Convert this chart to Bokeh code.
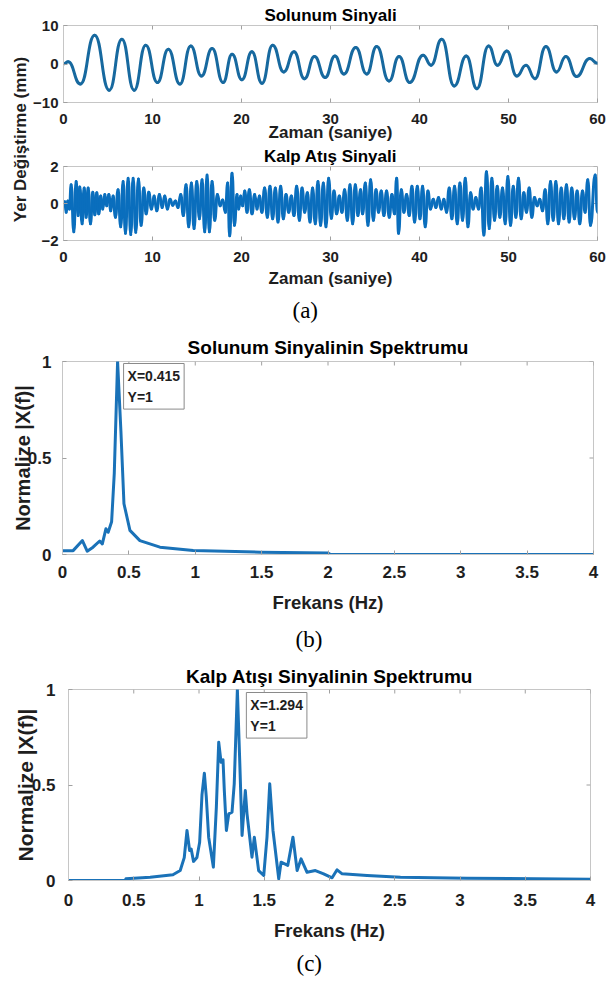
import math
from bokeh.plotting import figure
from bokeh.models import Range1d, FixedTicker, Label, Title
from bokeh.layouts import column, row
from bokeh.embed import file_html
from bokeh.resources import INLINE

# ---------------- data ----------------
# respiration signal: successive extrema (time s, displacement mm)
resp_t = [0.0, 0.52, 1.9, 3.5, 5.14, 6.56, 7.94, 9.24, 10.55, 11.78,
          13.08, 14.3, 15.5, 16.7, 17.93, 18.94, 20.05, 21.17, 22.3, 23.5,
          24.75, 25.9, 27.07, 28.2, 29.4, 30.5, 31.5, 32.84, 34.07, 35.19,
          36.58, 37.7, 38.9, 40.4, 41.3, 42.5, 43.9, 45.26, 46.45, 47.76,
          48.77, 49.8, 50.93, 51.97, 52.98, 54.2, 55.4, 56.44, 57.64, 59.13, 60.0]
resp_v = [0.0, 0.56, -5.2, 7.5, -6.8, 6.45, -6.8, 4.9, -4.8, 3.85,
          -5.2, 4.7, -3.1, 4.0, -4.8, 2.55, -4.1, 3.15, -5.0, 4.9,
          -2.05, 3.15, -3.8, 1.95, -3.5, 2.1, -2.6, 4.3, -2.6, 4.55,
          -4.4, 1.95, -4.8, 2.3, -0.3, 6.45, -5.7, 2.1, -6.4, 4.7,
          -0.3, 3.4, -3.1, -0.3, -3.8, 4.55, -2.05, 1.95, -3.25, 1.4, 0.2]

# heartbeat signal: successive extrema (time s, displacement mm)
heart_t = [0.0, 0.15, 0.30, 0.48, 0.67, 0.86, 1.16, 1.42, 1.64, 1.83,
           2.09, 2.32, 2.54, 2.77, 3.03, 3.29, 3.52, 3.74, 3.96, 4.19,
           4.41, 4.64, 4.86, 5.09, 5.31, 5.57, 5.84, 6.13, 6.43, 6.70,
           6.96, 7.26, 7.56, 7.82, 8.12, 8.42, 8.72, 9.02, 9.28, 9.58,
           9.88, 10.18, 10.48, 10.78, 11.08, 11.38, 11.67, 11.97, 12.27, 12.57,
           12.87, 13.17, 13.47, 13.77, 14.07, 14.37, 14.67, 14.97, 15.27, 15.57,
           15.87, 16.13, 16.39, 16.69, 16.99, 17.29, 17.59, 17.89, 18.19, 18.45,
           18.67, 18.94, 19.20, 19.50, 19.68, 19.91, 20.13, 20.36, 20.62, 20.88,
           21.18, 21.48, 21.74, 22.01, 22.30, 22.60, 22.90, 23.20, 23.50, 23.80,
           24.10, 24.40, 24.70, 25.00, 25.30, 25.60, 25.90, 26.20, 26.50, 26.80,
           27.10, 27.40, 27.70, 27.99, 28.29, 28.59, 28.89, 29.19, 29.49, 29.79,
           30.09, 30.39, 30.69, 30.99, 31.29, 31.59, 31.89, 32.19, 32.49, 32.78,
           33.08, 33.38, 33.61, 33.91, 34.21, 34.51, 34.81, 35.11, 35.40, 35.70,
           36.00, 36.30, 36.60, 36.90, 37.20, 37.43, 37.65, 37.95, 38.25, 38.55,
           38.85, 39.15, 39.45, 39.75, 40.05, 40.35, 40.64, 40.94, 41.24, 41.54,
           41.84, 42.14, 42.44, 42.74, 43.04, 43.34, 43.64, 43.94, 44.24, 44.54,
           44.84, 45.14, 45.44, 45.74, 46.03, 46.33, 46.63, 46.93, 47.23, 47.53,
           47.83, 48.13, 48.43, 48.73, 49.03, 49.33, 49.63, 49.93, 50.23, 50.53,
           50.83, 51.12, 51.42, 51.72, 52.02, 52.32, 52.62, 52.92, 53.22, 53.52,
           53.82, 54.12, 54.42, 54.72, 55.02, 55.32, 55.62, 55.92, 56.22, 56.51,
           56.81, 57.11, 57.41, 57.71, 58.01, 58.31, 58.61, 58.91, 59.21, 59.74, 60.0]
heart_v = [-0.04, 0.09, -0.47, 0.14, -0.30, 1.02, -1.53, 1.19, -0.65, 0.89,
           -1.09, 0.84, -0.74, 0.84, -1.09, 0.61, -0.61, 0.58, -0.56, 0.40,
           -0.30, 0.49, -0.12, 0.49, -0.39, 0.40, -0.74, 0.75, -1.26, 1.19,
           -1.61, 1.37, -1.67, 1.37, -1.56, 1.33, -1.18, 0.84, -0.56, 0.61,
           -0.30, 0.40, -0.39, 0.49, -0.21, 0.40, -0.30, 0.23, -0.09, 0.14,
           -0.21, 0.49, -0.65, 1.02, -1.26, 1.11, -1.35, 1.19, -0.82, 1.28,
           -1.53, 1.54, -1.53, 1.19, -0.91, 0.49, -0.12, 0.19, -0.47, 1.11,
           -1.74, 1.63, -1.18, 0.49, -0.30, 0.40, -0.12, 0.67, -0.47, 0.75,
           -0.56, 0.49, -0.30, 0.40, -0.47, 0.84, -0.74, 0.93, -0.82, 0.84,
           -1.00, 0.93, -0.82, 0.49, -0.47, 0.40, -0.65, 0.93, -0.91, 0.84,
           -0.47, 0.58, -1.00, 0.84, -1.09, 1.19, -1.18, 1.11, -1.26, 1.37,
           -0.80, 0.67, -0.56, 0.40, -0.47, 0.75, -0.91, 1.02, -1.09, 1.02,
           -0.65, 0.75, -0.56, 1.11, -1.18, 1.28, -0.91, 0.75, -0.47, 0.67,
           -0.65, 0.67, -0.74, 0.49, -0.56, 1.37, -1.61, 0.75, -0.47, 0.49,
           -0.65, 0.93, -1.00, 0.93, -0.82, 0.93, -1.26, 0.67, -0.30, 0.23,
           -0.21, 0.32, -0.30, 0.23, -0.47, 0.84, -0.82, 0.93, -1.09, 1.11,
           -0.91, 1.37, -1.26, 0.58, -0.30, 0.32, -0.30, 0.84, -1.70, 1.72,
           -1.35, 1.37, -0.91, 0.93, -0.74, 0.84, -1.09, 1.46, -1.18, 0.93,
           -0.74, 1.37, -0.82, 0.58, -0.47, 0.84, -0.74, 0.32, -0.12, 0.23,
           -0.39, 0.75, -1.09, 1.19, -0.91, 1.19, -1.09, 0.84, -0.82, 1.02,
           -1.00, 0.84, -0.82, 0.67, -1.09, 0.67, -0.47, 1.28, -1.18, 1.54, -0.47]

# normalised spectrum of respiration signal
resp_spec_f = [0.0, 0.08, 0.15, 0.186, 0.23, 0.28, 0.30, 0.327, 0.344, 0.37,
               0.39, 0.415, 0.44, 0.463, 0.508, 0.583, 0.734, 0.985, 1.49, 2.0,
               2.02, 3.0, 4.0]
resp_spec_a = [0.02, 0.02, 0.072, 0.017, 0.038, 0.07, 0.055, 0.133, 0.115, 0.17,
               0.42, 1.0, 0.64, 0.263, 0.125, 0.072, 0.038, 0.021, 0.012, 0.008,
               0.0, 0.0, 0.0]

# normalised spectrum of heartbeat signal
heart_spec_f = [0.0, 0.435, 0.44, 0.626, 0.80, 0.856, 0.887, 0.908, 0.928, 0.94,
                0.958, 0.984, 1.005, 1.023, 1.041, 1.056, 1.074, 1.11, 1.133, 1.151,
                1.169, 1.184, 1.194, 1.21, 1.228, 1.253, 1.27, 1.294, 1.312, 1.33,
                1.355, 1.368, 1.406, 1.424, 1.457, 1.496, 1.521, 1.542, 1.567, 1.611,
                1.629, 1.68, 1.72, 1.752, 1.782, 1.828, 1.892, 1.955, 2.02, 2.058,
                2.097, 2.288, 2.544, 3.055, 4.0]
heart_spec_a = [0.0, 0.0, 0.009, 0.017, 0.03, 0.052, 0.12, 0.262, 0.157, 0.165,
                0.1, 0.12, 0.2, 0.45, 0.562, 0.436, 0.227, 0.07, 0.384, 0.724,
                0.619, 0.632, 0.471, 0.262, 0.349, 0.358, 0.506, 1.0, 0.628, 0.236,
                0.471, 0.349, 0.122, 0.227, 0.052, 0.026, 0.227, 0.506, 0.262, 0.009,
                0.096, 0.079, 0.227, 0.052, 0.113, 0.043, 0.052, 0.035, 0.014, 0.056,
                0.035, 0.026, 0.017, 0.012, 0.007]

time_ticks = [0, 10, 20, 30, 40, 50, 60]
resp_y_ticks = [-10, 0, 10]
heart_y_ticks = [-2, 0, 2]
freq_ticks = [0, 0.5, 1, 1.5, 2, 2.5, 3, 3.5, 4]
freq_tick_labels = ["0", "0.5", "1", "1.5", "2", "2.5", "3", "3.5", "4"]
norm_ticks = [0, 0.5, 1]
norm_tick_labels = ["0", "0.5", "1"]

# ---------------- styling ----------------
SANS = "Liberation Sans"
SERIF = "Liberation Serif"
INK = "#1e1e1e"
FRAME = "#c6c6c6"
TICKC = "#a0a0a0"


def base_fig(w, h, xr, yr, left, right, top, bottom, title):
    p = figure(width=w, height=h, x_range=Range1d(*xr), y_range=Range1d(*yr),
               output_backend="svg", toolbar_location=None, title=title,
               min_border_left=left, min_border_right=right,
               min_border_top=top, min_border_bottom=bottom)
    p.grid.visible = False
    p.outline_line_color = FRAME
    p.background_fill_color = "white"
    p.border_fill_color = "white"
    return p


def style_title(p, size, standoff):
    p.title.align = "center"
    p.title.text_font = SANS
    p.title.text_font_size = size
    p.title.text_font_style = "bold"
    p.title.text_color = "black"
    p.title.standoff = standoff


def style_axis(ax, ticks, labels, size, standoff):
    ax.ticker = FixedTicker(ticks=ticks)
    if labels is not None:
        ax.major_label_overrides = {t: l for t, l in zip(ticks, labels)}
    ax.axis_line_color = FRAME
    ax.major_tick_in = 4
    ax.major_tick_out = 0
    ax.major_tick_line_color = TICKC
    ax.minor_tick_line_color = None
    ax.major_label_text_font = SANS
    ax.major_label_text_font_size = size
    ax.major_label_text_font_style = "bold"
    ax.major_label_text_color = INK
    ax.major_label_standoff = standoff


def axis_title(ax, text, size, standoff):
    ax.axis_label = text
    ax.axis_label_text_font = SANS
    ax.axis_label_text_font_size = size
    ax.axis_label_text_font_style = "bold"
    ax.axis_label_text_color = INK
    ax.axis_label_standoff = standoff


def caption(p, text, offset, standoff):
    p.add_layout(Title(text=text, align="left", offset=offset, standoff=standoff,
                       text_font=SERIF, text_font_size="23px",
                       text_font_style="normal", text_color="black"), "below")


def mirror_ticks(p, xr, yr, xticks, yticks):
    # MATLAB-style inward ticks on the top and right edges of the box
    p.ray(x=xticks, y=[yr[1]] * len(xticks), length=4, length_units="screen",
          angle=-math.pi / 2, line_color=TICKC, line_width=1)
    p.ray(x=[xr[1]] * len(yticks), y=yticks, length=4, length_units="screen",
          angle=math.pi, line_color=TICKC, line_width=1)


def smooth_wave(p, t, v, color, width):
    # cubic Bezier segments between successive extrema (horizontal tangents)
    x0, x1, y0, y1 = t[:-1], t[1:], v[:-1], v[1:]
    cx = [(a + b) / 2 for a, b in zip(x0, x1)]
    p.bezier(x0=x0, y0=y0, x1=x1, y1=y1, cx0=cx, cy0=y0, cx1=cx, cy1=y1,
             line_color=color, line_width=width, line_cap="round")


def signal_fig(h, right, top, bottom, yr, yticks, title, t, v, color,
               tick_so, lab_so):
    xr = (time_ticks[0], time_ticks[-1])
    p = base_fig(579, h, xr, yr, 33, right, top, bottom, title)
    style_title(p, "17px", 1)
    style_axis(p.xaxis[0], time_ticks, None, "15px", tick_so)
    style_axis(p.yaxis[0], yticks, None, "15px", 5)
    axis_title(p.xaxis[0], "Zaman (saniye)", "17px", lab_so)
    mirror_ticks(p, xr, yr, time_ticks, yticks)
    smooth_wave(p, t, v, color, 3)
    return p


# ---- shared y label for (a) ----
lab = figure(width=30, height=328, x_range=Range1d(0, 1), y_range=Range1d(0, 1),
             output_backend="svg", toolbar_location=None,
             x_axis_location=None, y_axis_location=None,
             min_border_left=0, min_border_right=0, min_border_top=0, min_border_bottom=0)
lab.grid.visible = False
lab.outline_line_color = None
lab.add_layout(Label(x=20, y=189, x_units="screen", y_units="screen",
                     text="Yer Değiştirme (mm)", angle=math.pi / 2,
                     text_align="center", text_baseline="middle",
                     text_font=SANS, text_font_size="17px", text_font_style="bold",
                     text_color=INK))

pa = signal_fig(144, 10, 25, 42, (-10, 10), resp_y_ticks, "Solunum Sinyali",
                resp_t, resp_v, "#17699f", 11, -4)
pb = signal_fig(184, 12, 21, 87, (-2, 2), heart_y_ticks, "Kalp Atış Sinyali",
                heart_t, heart_v, "#0a6ebd", 11, 4)
caption(pb, "(a)", 229, 11)


def spectrum_fig(h, left, right, top, bottom, title, title_so, f, a, peak_dx, peak_dy,
                 tick_so, lab_so, cap, cap_off, cap_so, ylab_size, ylab_so, ytick_so):
    xr = (freq_ticks[0], freq_ticks[-1])
    yr = (norm_ticks[0], norm_ticks[-1])
    p = base_fig(609, h, xr, yr, left, right, top, bottom, title)
    style_title(p, "19px", title_so)
    style_axis(p.xaxis[0], freq_ticks, freq_tick_labels, "17px", tick_so)
    style_axis(p.yaxis[0], norm_ticks, norm_tick_labels, "17px", ytick_so)
    axis_title(p.xaxis[0], "Frekans (Hz)", "18.5px", lab_so)
    axis_title(p.yaxis[0], "Normalize |X(f)|", ylab_size, ylab_so)
    mirror_ticks(p, xr, yr, freq_ticks, norm_ticks)
    p.line(f, a, line_color="#1a72b8", line_width=3, line_join="round")
    k = a.index(max(a))
    p.add_layout(Label(x=f[k], y=a[k], x_offset=peak_dx, y_offset=peak_dy,
                       text="X=%s\nY=%g" % (f[k], a[k]),
                       text_align="left", text_baseline="top",
                       text_font=SANS, text_font_size="14px", text_font_style="bold",
                       text_color=INK, text_line_height=1.35,
                       border_line_color="#8a8a8a", border_line_width=1,
                       background_fill_color="white", padding=4))
    caption(p, cap, cap_off, cap_so)
    return p


pc = spectrum_fig(333, 62, 16, 33, 107, "Solunum Sinyalinin Spektrumu", 7,
                  resp_spec_f, resp_spec_a, 6, -2, 11, 11, "(b)", 233, 19,
                  "20px", -9, 11)
pd = spectrum_fig(320, 68, 19, 28, 101, "Kalp Atışı Sinyalinin Spektrumu", 5,
                  heart_spec_f, heart_spec_a, 9, -3, 13, 11, "(c)", 228, 11,
                  "21px", -8, 13)

# each spectrum in its own row so that their frames are not aligned together
layout = column(row(lab, column(pa, pb)), row(pc), row(pd))
open("out.html", "w").write(file_html(layout, INLINE))
